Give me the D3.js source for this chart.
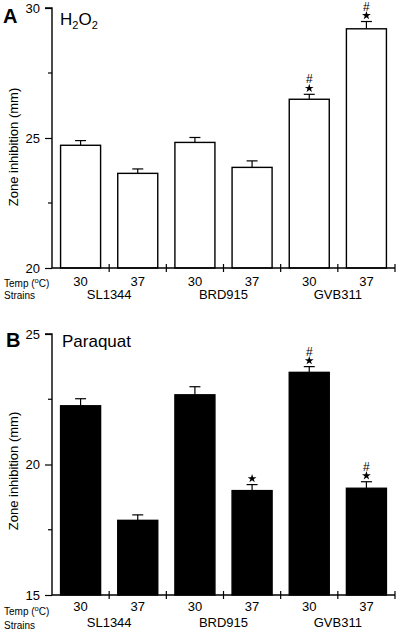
<!DOCTYPE html>
<html>
<head>
<meta charset="utf-8">
<script src="https://cdn.jsdelivr.net/npm/d3@7"></script>
<style>
  html, body { margin: 0; padding: 0; background: #fff; }
  svg { display: block; font-family: "Liberation Sans", Arial, sans-serif; }
</style>
</head>
<body>
<svg id="chart" width="400" height="634"></svg>
<script>
// ---- data ----
const temps = ["30", "37", "30", "37", "30", "37"];
const strains = ["SL1344", "BRD915", "GVB311"];
const h2o2Values = [24.72, 23.64, 24.83, 23.87, 26.49, 29.20];
const h2o2Errors = [0.18, 0.17, 0.19, 0.25, 0.19, 0.28];
const h2o2Marks = ["", "", "", "", "*#", "*#"];
const paraquatValues = [22.25, 17.86, 22.67, 19.0, 23.53, 19.09];
const paraquatErrors = [0.27, 0.21, 0.31, 0.23, 0.22, 0.25];
const paraquatMarks = ["", "", "", "*", "*#", "*#"];
const h2o2Ticks = [20, 25, 30];
const h2o2Minor = [22.5, 27.5];
const paraquatTicks = [15, 20, 25];
const paraquatMinor = [17.5, 22.5];

const svg = d3.select("#chart");
const starPath = d3.symbol().type(d3.symbolStar).size(24)();

function panel(opt) {
  const g = svg.append("g");
  const x = d3.scaleBand().domain(d3.range(temps.length))
    .range([52, 395]).paddingInner(0.3).paddingOuter(0.15);
  const y = d3.scaleLinear().domain(opt.domain).range([opt.y0, opt.y1]);
  const bw = x.bandwidth();
  const step = x.step();

  // bars
  g.selectAll("rect.bar").data(opt.values).join("rect")
    .attr("x", (d, i) => x(i))
    .attr("y", d => y(d))
    .attr("width", bw)
    .attr("height", d => y(opt.domain[0]) - y(d))
    .attr("fill", opt.fill)
    .attr("stroke", "#000")
    .attr("stroke-width", 1.4);

  // error bars + significance marks
  opt.values.forEach((v, i) => {
    const cx = x(i) + bw / 2;
    const top = y(v + opt.errors[i]);
    g.append("line").attr("x1", cx).attr("x2", cx).attr("y1", y(v)).attr("y2", top)
      .attr("stroke", "#000").attr("stroke-width", 1.2);
    g.append("line").attr("x1", cx - 5.5).attr("x2", cx + 5.5).attr("y1", top).attr("y2", top)
      .attr("stroke", "#000").attr("stroke-width", 1.2);
    const m = opt.marks[i];
    if (m.includes("*")) {
      g.append("path").attr("d", starPath)
        .attr("transform", `translate(${cx},${top - 6})`).attr("fill", "#000");
    }
    if (m.includes("#")) {
      g.append("text").attr("x", cx).attr("y", top - 11)
        .attr("text-anchor", "middle").attr("font-size", 12).text("#");
    }
  });

  // y axis
  const ya = d3.axisLeft(y).tickValues(opt.ticks).tickSize(7).tickPadding(5).tickFormat(d3.format("d"));
  const yg = g.append("g").attr("transform", "translate(52,0)").call(ya);
  yg.select(".domain").attr("stroke-width", 1.4).attr("d", `M-7,${opt.y1}H0V${opt.y0}`);
  yg.selectAll(".tick line").attr("stroke-width", 1.2);
  yg.selectAll(".tick text").attr("font-size", 13).attr("font-family", "Liberation Sans, Arial, sans-serif").attr("fill", "#000");
  yg.selectAll("line.minor").data(opt.minor).join("line").attr("class", "minor")
    .attr("x1", -4).attr("x2", 0).attr("y1", d => y(d)).attr("y2", d => y(d))
    .attr("stroke", "#000").attr("stroke-width", 1.2);

  // x axis line and crossing ticks
  const ay = y(opt.domain[0]);
  g.append("line").attr("x1", 52).attr("x2", 395).attr("y1", ay).attr("y2", ay)
    .attr("stroke", "#000").attr("stroke-width", 1.4);
  d3.range(1, temps.length + 1).forEach(i => {
    const tx = x.range()[0] + i * step;
    g.append("line").attr("x1", tx).attr("x2", tx).attr("y1", ay - 4).attr("y2", ay + 4)
      .attr("stroke", "#000").attr("stroke-width", 1.2);
  });

  // category labels
  g.selectAll("text.temp").data(temps).join("text").attr("class", "temp")
    .attr("x", (d, i) => x(i) + bw / 2).attr("y", ay + opt.tempOff)
    .attr("text-anchor", "middle").attr("font-size", 13).text(d => d);
  g.selectAll("text.strain").data(strains).join("text").attr("class", "strain")
    .attr("x", (d, i) => x.range()[0] + (2 * i + 1) * step).attr("y", ay + opt.strainOff)
    .attr("text-anchor", "middle").attr("font-size", 13).text(d => d);

  const t = g.append("text").attr("x", 4).attr("y", ay + opt.tempLblOff).attr("font-size", 10);
  t.append("tspan").text("Temp (");
  t.append("tspan").attr("dy", -4).attr("font-size", 7.5).text("o");
  t.append("tspan").attr("dy", 4).text("C)");
  g.append("text").attr("x", 4).attr("y", ay + opt.strainLblOff).attr("font-size", 10).text("Strains");

  // y title
  g.append("text").attr("transform", `translate(17.5,${opt.titleY}) rotate(-90)`)
    .attr("text-anchor", "middle").attr("font-size", 13).text("Zone inhibition (mm)");

  // panel letter
  g.append("text").attr("x", opt.letterX).attr("y", opt.letterY).attr("font-size", 20)
    .attr("font-weight", "bold").text(opt.letter);

  return g;
}

const gA = panel({
  domain: [20, 30], y0: 268, y1: 8, values: h2o2Values, errors: h2o2Errors, marks: h2o2Marks,
  ticks: h2o2Ticks, minor: h2o2Minor, fill: "#fff",
  tempOff: 18, strainOff: 31, tempLblOff: 19, strainLblOff: 31,
  titleY: 147, letter: "A", letterX: 3, letterY: 23
});
const hTitle = gA.append("text").attr("x", 60).attr("y", 25).attr("font-size", 17);
hTitle.append("tspan").text("H");
hTitle.append("tspan").attr("dy", 4).attr("font-size", 11).text("2");
hTitle.append("tspan").attr("dy", -4).text("O");
hTitle.append("tspan").attr("dy", 4).attr("font-size", 11).text("2");

const gB = panel({
  domain: [15, 25], y0: 595, y1: 334, values: paraquatValues, errors: paraquatErrors, marks: paraquatMarks,
  ticks: paraquatTicks, minor: paraquatMinor, fill: "#000",
  tempOff: 16, strainOff: 32, tempLblOff: 19.5, strainLblOff: 33.5,
  titleY: 471, letter: "B", letterX: 6, letterY: 347
});
gB.append("text").attr("x", 62).attr("y", 347).attr("font-size", 17).text("Paraquat");
</script>
</body>
</html>
